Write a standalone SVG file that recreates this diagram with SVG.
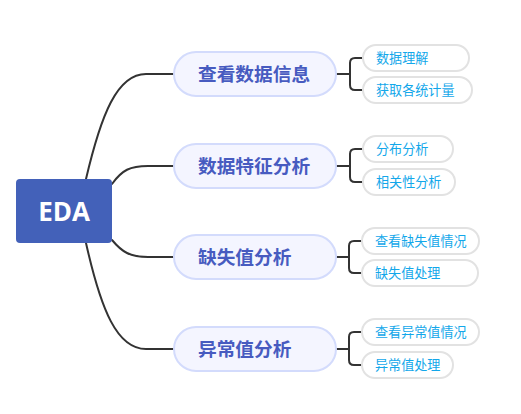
<svg xmlns="http://www.w3.org/2000/svg" width="521" height="414" viewBox="0 0 521 414">
<style>
.conn{fill:none;stroke:#333333;stroke-width:2;stroke-linecap:round}
.root{fill:#4361b9}
.rootT{fill:#ffffff;font-family:"Open Sans","Noto Sans",sans-serif;font-weight:bold;font-size:26px}
.br{fill:#f4f5ff;stroke:#d3dbfc;stroke-width:2}
.brT{fill:#475bc0;font-family:"Noto Sans CJK SC",sans-serif;font-weight:bold;font-size:18.7px}
.lf{fill:#ffffff;stroke:#e2e2e2;stroke-width:2}
.lfT{fill:#12a7ea;font-family:"Noto Sans CJK SC",sans-serif;font-size:13.1px}
</style>
<rect width="521" height="414" fill="#ffffff"/>
<g id="connectors">
<path class="conn" d="M86,179 C101,115 117,74 146,74 L174,74"/>
<path class="conn" d="M112,184 C122,170 130,166 148,166 L174,166"/>
<path class="conn" d="M112,240 C122,252 130,257 148,257 L174,257"/>
<path class="conn" d="M86,243 C101,310 117,349 146,349 L174,349"/>
<path class="conn" d="M336,74 H350 M362,58 H355 Q350,58 350,63 V85 Q350,90 355,90 H362"/>
<path class="conn" d="M336,166 H350 M362,149 H355 Q350,149 350,154 V177 Q350,182 355,182 H362"/>
<path class="conn" d="M336,257 H349 M361,241 H354 Q349,241 349,246 V268 Q349,273 354,273 H361"/>
<path class="conn" d="M336,349 H349 M361,332 H354 Q349,332 349,337 V360 Q349,365 354,365 H361"/>
</g>
<g id="root">
<rect class="root" x="16" y="179" width="96" height="64" rx="4"/>
<text class="rootT" x="64" y="221" text-anchor="middle">EDA</text>
</g>
<g id="b1">
<rect class="br" x="174" y="52" width="162" height="44" rx="22"/>
<text class="brT" x="198" y="80.7">查看数据信息</text>
</g>
<g id="b2">
<rect class="br" x="174" y="144" width="162" height="44" rx="22"/>
<text class="brT" x="198" y="172.7">数据特征分析</text>
</g>
<g id="b3">
<rect class="br" x="174" y="235" width="162" height="44" rx="22"/>
<text class="brT" x="198" y="263.7">缺失值分析</text>
</g>
<g id="b4">
<rect class="br" x="174" y="327" width="162" height="44" rx="22"/>
<text class="brT" x="198" y="355.7">异常值分析</text>
</g>
<g id="l1a"><rect class="lf" x="363" y="45" width="106" height="26" rx="13"/><text class="lfT" x="376" y="62.7">数据理解</text></g>
<g id="l1b"><rect class="lf" x="363" y="77" width="109" height="26" rx="13"/><text class="lfT" x="376" y="94.7">获取各统计量</text></g>
<g id="l2a"><rect class="lf" x="363" y="136" width="90" height="26" rx="13"/><text class="lfT" x="376" y="153.7">分布分析</text></g>
<g id="l2b"><rect class="lf" x="363" y="169" width="92" height="26" rx="13"/><text class="lfT" x="376" y="186.7">相关性分析</text></g>
<g id="l3a"><rect class="lf" x="362" y="228" width="117" height="26" rx="13"/><text class="lfT" x="375" y="245.7">查看缺失值情况</text></g>
<g id="l3b"><rect class="lf" x="362" y="260" width="116" height="26" rx="13"/><text class="lfT" x="375" y="277.7">缺失值处理</text></g>
<g id="l4a"><rect class="lf" x="362" y="319" width="117" height="26" rx="13"/><text class="lfT" x="375" y="336.7">查看异常值情况</text></g>
<g id="l4b"><rect class="lf" x="362" y="352" width="91" height="26" rx="13"/><text class="lfT" x="375" y="369.7">异常值处理</text></g>
</svg>
